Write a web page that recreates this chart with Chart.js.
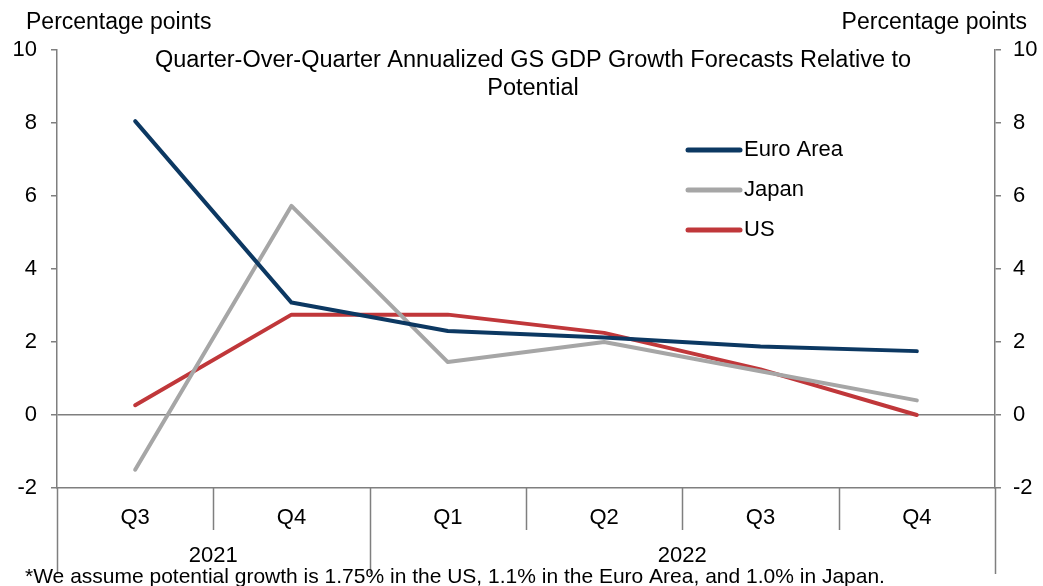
<!DOCTYPE html>
<html>
<head>
<meta charset="utf-8">
<script src="https://cdn.jsdelivr.net/npm/chart.js@4.4.1/dist/chart.umd.min.js"></script>
<style>
  html, body { margin: 0; padding: 0; background: #fff; }
  canvas { display: block; }
</style>
</head>
<body>
<canvas id="chart" width="1043" height="586"></canvas>
<script>
var quarters = ['Q3', 'Q4', 'Q1', 'Q2', 'Q3', 'Q4'];
var years = [['2021', 0, 2], ['2022', 2, 6]];   // label, first category, end category
var euroArea = [8.05, 3.08, 2.3, 2.12, 1.88, 1.75];
var japan = [-1.5, 5.73, 1.45, 2.0, 1.2, 0.4];
var us = [0.27, 2.75, 2.75, 2.25, 1.25, 0.0];
var yTicks = [-2, 0, 2, 4, 6, 8, 10];

var FONT = '"Liberation Sans", Arial, sans-serif';
var AXIS = '#7f7f7f';

// texts, legend and category separators drawn on top of the chart
var extras = {
  id: 'extras',
  afterDraw: function (chart) {
    var ctx = chart.ctx, area = chart.chartArea;
    ctx.save();
    ctx.fillStyle = '#000';
    ctx.textBaseline = 'middle';

    ctx.font = '23px ' + FONT;
    ctx.textAlign = 'left';
    ctx.fillText('Percentage points', 26, 23);
    ctx.textAlign = 'right';
    ctx.fillText('Percentage points', 1027, 23);

    ctx.font = '23.5px ' + FONT;
    ctx.textAlign = 'center';
    ctx.fillText('Quarter-Over-Quarter Annualized GS GDP Growth Forecasts Relative to', 533, 61);
    ctx.fillText('Potential', 533, 89);

    // legend
    ctx.font = '22px ' + FONT;
    chart.data.datasets.forEach(function (ds, i) {
      var yy = 150 + i * 40;
      ctx.strokeStyle = ds.borderColor;
      ctx.lineWidth = 5;
      ctx.lineCap = 'round';
      ctx.beginPath();
      ctx.moveTo(688, yy);
      ctx.lineTo(740, yy);
      ctx.stroke();
      ctx.textAlign = 'left';
      ctx.fillText(ds.label, 744, yy);
    });

    // category separators
    var step = (area.right - area.left) / quarters.length;
    ctx.strokeStyle = AXIS;
    ctx.lineWidth = 1.5;
    ctx.lineCap = 'butt';
    var longAt = {};
    years.forEach(function (y) { longAt[y[1]] = true; longAt[y[2]] = true; });
    for (var i = 0; i <= quarters.length; i++) {
      var px = Math.round(area.left + i * step) + 0.5;
      ctx.beginPath();
      ctx.moveTo(px, area.bottom);
      ctx.lineTo(px, longAt[i] ? 574 : 530);
      ctx.stroke();
    }

    // year labels
    ctx.textAlign = 'center';
    years.forEach(function (y) {
      ctx.fillText(y[0], area.left + (y[1] + y[2]) / 2 * step, 556);
    });

    // footnote
    ctx.font = '21px ' + FONT;
    ctx.textAlign = 'left';
    ctx.fillText('*We assume potential growth is 1.75% in the US, 1.1% in the Euro Area, and 1.0% in Japan.', 25, 577);
    ctx.restore();
  }
};

function line(label, data, color) {
  return {
    label: label, data: data, borderColor: color, backgroundColor: color,
    borderWidth: 4, pointRadius: 0, tension: 0,
    borderCapStyle: 'round', borderJoinStyle: 'round', yAxisID: 'y'
  };
}

new Chart(document.getElementById('chart'), {
  type: 'line',
  data: {
    labels: quarters,
    datasets: [
      line('Euro Area', euroArea, '#0c3862'),
      line('Japan', japan, '#a6a6a6'),
      line('US', us, '#c0373a')
    ]
  },
  options: {
    responsive: false,
    animation: false,
    layout: { padding: { top: 50, left: 0, right: 0, bottom: 0 } },
    plugins: { legend: { display: false }, title: { display: false }, tooltip: { enabled: false } },
    scales: {
      x: {
        offset: true,
        afterFit: function (s) { s.height = 98; },
        grid: { display: false, drawTicks: false },
        border: { display: true, color: AXIS, width: 1.5 },
        ticks: { color: '#000', font: { size: 22, family: FONT }, padding: 17, maxRotation: 0 }
      },
      y: {
        position: 'left',
        min: -2, max: 10,
        afterFit: function (s) { s.width = 57; },
        afterBuildTicks: function (s) { s.ticks = yTicks.map(function (v) { return { value: v }; }); },
        grid: {
          color: function (c) { return c.tick && c.tick.value === 0 ? AXIS : 'rgba(0,0,0,0)'; },
          lineWidth: 1.5, tickColor: AXIS, tickLength: 6
        },
        border: { display: true, color: AXIS, width: 1.5 },
        ticks: { color: '#000', font: { size: 22, family: FONT }, padding: 14 }
      },
      y2: {
        position: 'right',
        min: -2, max: 10,
        afterFit: function (s) { s.width = 48; },
        afterBuildTicks: function (s) { s.ticks = yTicks.map(function (v) { return { value: v }; }); },
        grid: { drawOnChartArea: false, tickColor: AXIS, tickLength: 6, lineWidth: 1.5 },
        border: { display: true, color: AXIS, width: 1.5 },
        ticks: { color: '#000', font: { size: 22, family: FONT }, padding: 12 }
      }
    }
  },
  plugins: [extras]
});
</script>
</body>
</html>
